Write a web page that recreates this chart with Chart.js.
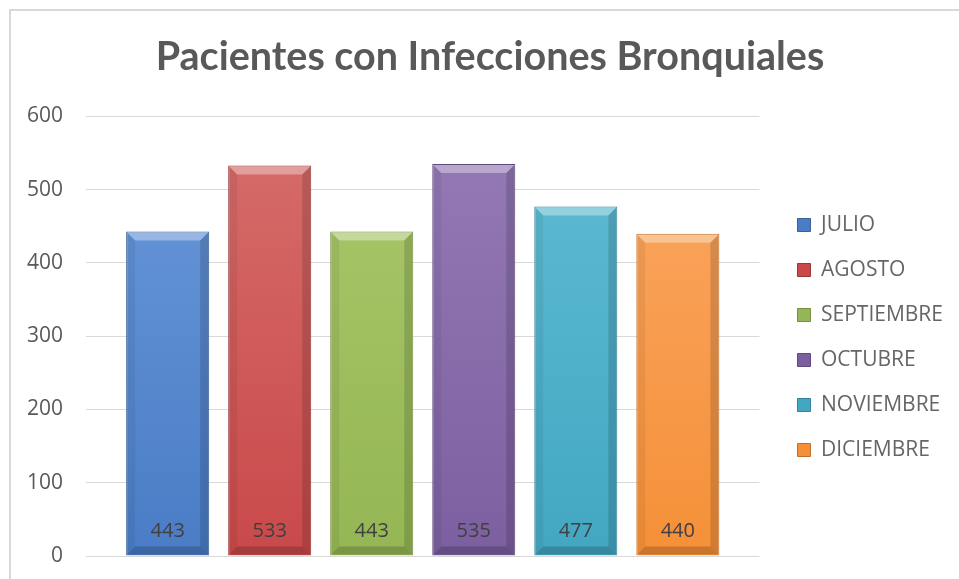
<!DOCTYPE html>
<html lang="es">
<head>
    <meta charset="UTF-8">
    <title>Pacientes con Infecciones Bronquiales</title>
    <style>
        body {
            margin: 0;
            padding: 0;
            background: #fff;
        }
        #wrap {
            position: relative;
            width: 959px;
            height: 579px;
        }
        #frame {
            position: absolute;
            left: 9px;
            top: 9px;
            right: 0;
            bottom: 0;
            border-top: 2px solid #d9d9d9;
            border-left: 2px solid #d9d9d9;
            pointer-events: none;
        }
    </style>
</head>
<body>
    <div id="wrap">
        <canvas id="chart" width="959" height="579"></canvas>
        <div id="frame"></div>
    </div>

    <script src="https://cdn.jsdelivr.net/npm/chart.js"></script>
    <script>
        // one category, one series per month (like the original sheet)
        var meses = ['JULIO', 'AGOSTO', 'SEPTIEMBRE', 'OCTUBRE', 'NOVIEMBRE', 'DICIEMBRE'];
        var pacientes = [443, 533, 443, 535, 477, 440];
        var yTicks = [0, 100, 200, 300, 400, 500, 600];

        var topColors = ['#6a98da', '#d66e6b', '#a9c86b', '#957bb6', '#60bdd5', '#fba865'];
        var baseColors = ['#4a7dc6', '#c9494a', '#95b654', '#7c5fa0', '#43a7c2', '#f59038'];
        var edgeColors = ['#3a6399', '#9a3835', '#76903f', '#5f4a7c', '#32849a', '#c0702c'];

        function barGradient(i) {
            return function (ctx) {
                var area = ctx.chart.chartArea;
                if (!area) return baseColors[i];
                var g = ctx.chart.ctx.createLinearGradient(0, area.top, 0, area.bottom);
                g.addColorStop(0, topColors[i]);
                g.addColorStop(1, baseColors[i]);
                return g;
            };
        }

        var datasets = meses.map(function (m, i) {
            return {
                label: m,
                data: [pacientes[i]],
                backgroundColor: barGradient(i),
                borderColor: edgeColors[i],
                borderWidth: 1,
                barPercentage: 0.814,
                categoryPercentage: 0.909
            };
        });

        // bevel look + value labels near the base of each bar
        var bevelAndLabels = {
            id: 'bevelAndLabels',
            afterDatasetsDraw: function (chart) {
                var c = chart.ctx;
                c.save();
                chart.data.datasets.forEach(function (ds, i) {
                    var bar = chart.getDatasetMeta(i).data[0];
                    var half = bar.width / 2;
                    var x0 = bar.x - half + 1, x1 = bar.x + half - 1;
                    var y0 = bar.y + 1, y1 = bar.base - 1;
                    var b = 8;
                    function quad(pts, fill) {
                        c.beginPath();
                        c.moveTo(pts[0][0], pts[0][1]);
                        for (var k = 1; k < pts.length; k++) c.lineTo(pts[k][0], pts[k][1]);
                        c.closePath();
                        c.fillStyle = fill;
                        c.fill();
                    }
                    quad([[x0, y0], [x1, y0], [x1 - b, y0 + b], [x0 + b, y0 + b]], 'rgba(255,255,255,0.35)');
                    quad([[x0, y0], [x0 + b, y0 + b], [x0 + b, y1 - b], [x0, y1]], 'rgba(0,0,0,0.06)');
                    quad([[x1, y0], [x1 - b, y0 + b], [x1 - b, y1 - b], [x1, y1]], 'rgba(0,0,0,0.14)');
                    quad([[x0, y1], [x0 + b, y1 - b], [x1 - b, y1 - b], [x1, y1]], 'rgba(0,0,0,0.18)');
                });
                c.font = '20px "Open Sans", sans-serif';
                c.fillStyle = '#404040';
                c.textAlign = 'center';
                c.textBaseline = 'middle';
                chart.data.datasets.forEach(function (ds, i) {
                    var bar = chart.getDatasetMeta(i).data[0];
                    c.fillText(String(ds.data[0]), bar.x, bar.base - 24);
                });
                c.restore();
            }
        };

        new Chart(document.getElementById('chart'), {
            type: 'bar',
            data: { labels: [''], datasets: datasets },
            plugins: [bevelAndLabels],
            options: {
                responsive: false,
                animation: false,
                layout: { padding: { left: 27, right: 6, top: 0, bottom: 23 } },
                plugins: {
                    title: {
                        display: true,
                        text: 'Pacientes con Infecciones Bronquiales',
                        color: '#595959',
                        font: { family: 'Lato', size: 39.5, weight: 'bold' },
                        padding: { top: 34, bottom: 35 }
                    },
                    legend: {
                        position: 'right',
                        align: 'start',
                        maxWidth: 300,
                        // blank title only pushes the entries down
                        title: {
                            display: true,
                            text: ' ',
                            font: { size: 10 },
                            padding: { top: 178.5, bottom: 0 }
                        },
                        labels: {
                            color: '#595959',
                            font: { family: '"Open Sans"', size: 21 },
                            boxWidth: 13,
                            boxHeight: 13,
                            padding: 24,
                            generateLabels: function (chart) {
                                return meses.map(function (m, i) {
                                    return {
                                        text: m,
                                        fillStyle: baseColors[i],
                                        strokeStyle: edgeColors[i],
                                        lineWidth: 1,
                                        datasetIndex: i
                                    };
                                });
                            }
                        }
                    },
                    tooltip: { enabled: false }
                },
                scales: {
                    x: {
                        display: false
                    },
                    y: {
                        min: 0,
                        max: 600,
                        afterBuildTicks: function (axis) {
                            axis.ticks = yTicks.map(function (v) { return { value: v }; });
                        },
                        afterFit: function (axis) {
                            axis.width = 59;
                            axis.paddingTop = 0;
                            axis.paddingBottom = 0;
                        },
                        border: { display: false },
                        grid: { color: '#d9d9d9', lineWidth: 1, drawTicks: false },
                        ticks: {
                            color: '#595959',
                            font: { family: '"Open Sans"', size: 21 },
                            padding: 23
                        }
                    },
                    // empty axis used only as a gap between plot and legend
                    gap: {
                        type: 'linear',
                        position: 'right',
                        grid: { display: false },
                        border: { display: false },
                        ticks: { display: false },
                        afterFit: function (axis) { axis.width = 14; }
                    }
                }
            }
        });
    </script>
</body>
</html>
